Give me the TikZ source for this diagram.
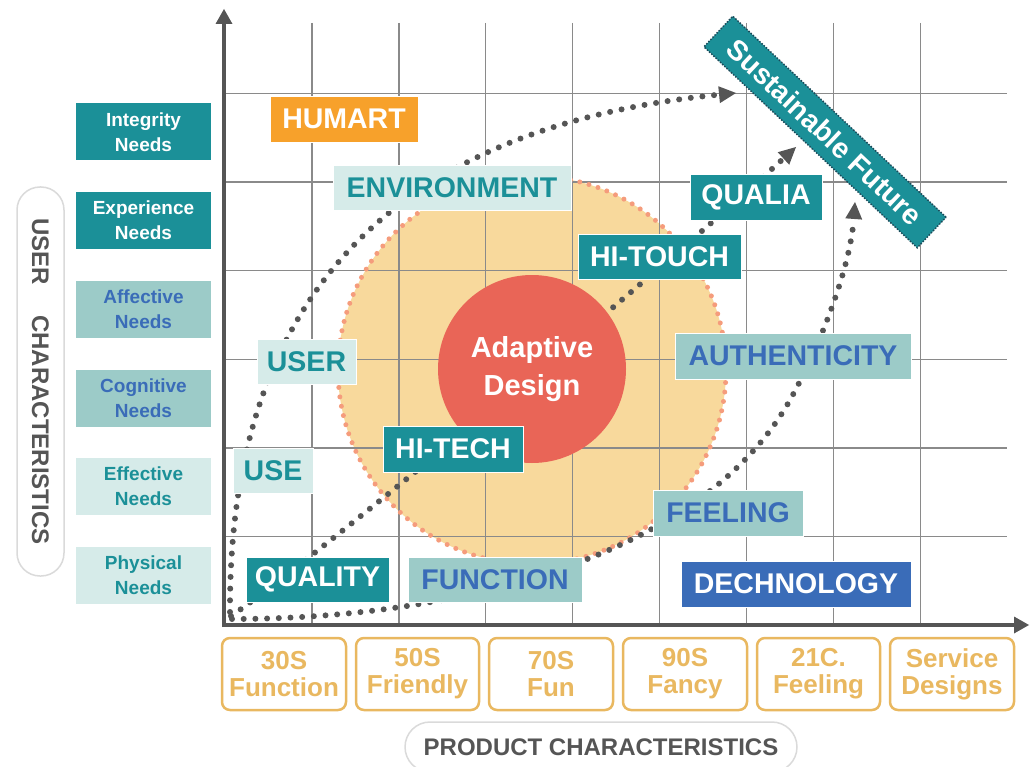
\documentclass[tikz,border=0pt]{standalone}
\usepackage{fontspec}
\setmainfont{Liberation Sans}
\usetikzlibrary{arrows.meta}
\definecolor{tealA}{HTML}{1B9098}
\definecolor{tealB}{HTML}{9CCBC8}
\definecolor{tealC}{HTML}{D6EBE9}
\definecolor{blueA}{HTML}{3A6CB8}
\definecolor{orng}{HTML}{F7A12B}
\definecolor{gold}{HTML}{E9B860}
\definecolor{peach}{HTML}{F8D99C}
\definecolor{salmon}{HTML}{F59C7C}
\definecolor{redc}{HTML}{E96557}
\definecolor{gridc}{HTML}{8A8A8A}
\definecolor{axisc}{HTML}{555555}
\definecolor{pillc}{HTML}{DADADA}
\definecolor{navy}{HTML}{1C4B5A}
\begin{document}
\begin{tikzpicture}[x=1pt,y=-1pt,
  lab/.style={inner sep=0pt, font=\bfseries\fontsize{28.5}{34}\selectfont, draw=white, line width=0.8pt},
  dk/.style={lab, fill=tealA, text=white},
  md/.style={lab, fill=tealB, text=blueA},
  lt/.style={lab, fill=tealC, text=tealA},
  need/.style={inner sep=0pt, minimum width=135pt, minimum height=57pt, align=center, font=\bfseries\fontsize{19}{25}\selectfont},
  era/.style={draw=gold, line width=2.5pt, rounded corners=8pt, fill=white, text=gold, minimum height=72pt, align=center, inner sep=0pt, font=\bfseries\fontsize{26}{27}\selectfont},
  flow/.style={draw=axisc, line width=6pt, line cap=round, dash pattern=on 0pt off 11.7pt, -{Triangle[length=17pt,width=17pt,line width=0pt]}},
  gridline/.style={draw=gridc, line width=1.4pt},
  axisline/.style={draw=axisc, line width=3.5pt, -{Triangle[length=15pt,width=17pt,line width=0pt]}},
  pill/.style={draw=pillc, line width=1.5pt, fill=white, text=axisc, inner sep=0pt, font=\bfseries\fontsize{24}{28}\selectfont}
]
\useasboundingbox (0,0) rectangle (1035,767);
\clip (0,0) rectangle (1035,767);

% halo circle fill
\node[circle, fill=peach, minimum size=388pt, inner sep=0pt] (halo) at (532,370) {};

% grid
\foreach \k in {1,...,8} {
  \draw[gridline] ({225+86.9*\k},23) -- ({225+86.9*\k},625);
}
\foreach \k in {1,...,6} {
  \draw[gridline] (225,{625-88.6*\k}) -- (1007,{625-88.6*\k});
}

% halo border
\draw[draw=salmon, line width=5pt, line cap=round, dash pattern=on 0pt off 9.5pt] (halo.center) circle[radius=194pt];

% axes
\coordinate (org) at (224,627);
\coordinate (ytip) at (224,9);
\coordinate (xorg) at (222,625);
\coordinate (xtip) at (1029,625);
\draw[axisline] (org) -- (ytip);
\draw[axisline] (xorg) -- (xtip);

% flows
\coordinate (s1) at (230,612);
\coordinate (s2) at (231,616);
\coordinate (s3) at (232,619);
\coordinate (e1) at (736,93);
\coordinate (e2) at (796,147);
\coordinate (e3) at (855,202);
\draw[flow] (s1) .. controls (229,330) and (360,130) .. (e1);
\draw[flow] (s2) .. controls (300,570) and (640,290) .. (e2);
\draw[flow] (s3) .. controls (450,619) and (700,560) .. (790,400) .. controls (818,350) and (850,270) .. (e3);

% core circle
\node[circle, fill=redc, minimum size=188pt, inner sep=0pt, text=white, align=center,
      font=\bfseries\fontsize{29}{38}\selectfont] (core) at (532,369) {Adaptive\\Design};

% labels
\node[lab, fill=orng, text=white, minimum width=148pt, minimum height=46pt] (humart) at (344,119) {HUMART};
\node[lt, minimum width=238pt, minimum height=45pt] (env) at (452,187.5) {ENVIRONMENT};
\node[dk, minimum width=163pt, minimum height=45pt] (hitouch) at (659.5,256.5) {HI-TOUCH};
\node[dk, minimum width=132pt, minimum height=46pt] (qualia) at (756,197) {QUALIA};
\node[lt, minimum width=99pt, minimum height=45pt] (user) at (306.5,361.5) {USER};
\node[md, minimum width=236pt, minimum height=46pt] (auth) at (793,356) {AUTHENTICITY};
\node[dk, minimum width=140pt, minimum height=46pt] (hitech) at (453,449) {HI-TECH};
\node[lt, minimum width=80pt, minimum height=45pt] (use) at (273,470.5) {USE};
\node[md, minimum width=150pt, minimum height=46pt] (feel) at (728,513) {FEELING};
\node[dk, minimum width=143pt, minimum height=45pt] (quality) at (317.5,579.5) {QUALITY};
\node[md, minimum width=174pt, minimum height=45pt] (func) at (495,579.5) {FUNCTION};
\node[lab, fill=blueA, text=white, minimum width=230pt, minimum height=46pt] (dech) at (796,584) {DECHNOLOGY};

% sustainable future
\node[fill=tealA, draw=navy, line width=1.5pt, dash pattern=on 1.5pt off 1.5pt, text=white,
      minimum width=293pt, minimum height=42pt, inner sep=0pt, rotate=-43.3,
      font=\bfseries\fontsize{28.5}{34}\selectfont] (sust) at (825,132) {Sustainable Future};

% needs
\node[need, fill=tealA, text=white] (n1) at (143.5,132) {Integrity\\Needs};
\node[need, fill=tealA, text=white] (n2) at (143.5,220.5) {Experience\\Needs};
\node[need, fill=tealB, text=blueA] (n3) at (143.5,309.5) {Affective\\Needs};
\node[need, fill=tealB, text=blueA] (n4) at (143.5,398) {Cognitive\\Needs};
\node[need, fill=tealC, text=tealA] (n5) at (143.5,486.5) {Effective\\Needs};
\node[need, fill=tealC, text=tealA] (n6) at (143.5,575) {Physical\\Needs};

% user characteristics pill
\node[pill, rounded corners=23pt, minimum width=389pt, minimum height=47pt, rotate=-90] (uc) at (40.5,381.5) {USER\hspace{30pt}CHARACTERISTICS};

% eras
\node[era, minimum width=124pt] (t1) at (284,674) {30S\\Function};
\node[era, minimum width=123pt] (t2) at (417.5,674) {50S\\Friendly};
\node[era, minimum width=124pt] (t3) at (551,674) {70S\\Fun};
\node[era, minimum width=124pt] (t4) at (685,674) {90S\\Fancy};
\node[era, minimum width=123pt] (t5) at (818.5,674) {21C.\\Feeling};
\node[era, minimum width=124pt] (t6) at (952,674) {Service\\Designs};

% product characteristics pill
\node[pill, rounded corners=25pt, minimum width=392pt, minimum height=50pt] (pc) at (601,747) {PRODUCT CHARACTERISTICS};
\end{tikzpicture}
\end{document}
